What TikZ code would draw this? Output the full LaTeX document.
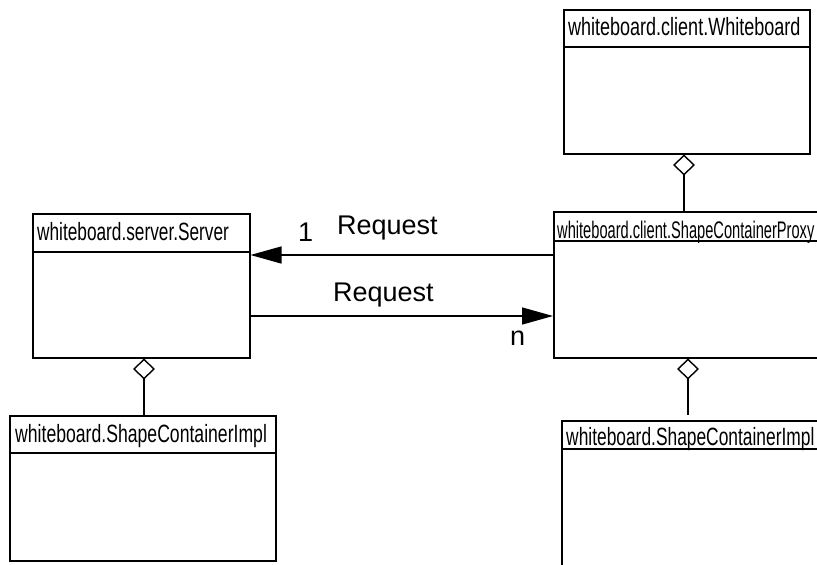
\documentclass[tikz,border=0pt]{standalone}
\usepackage{fontspec}
\setmainfont{Liberation Sans}
\usetikzlibrary{arrows.meta}

\tikzset{
  classpart/.style={draw, line width=1.5pt, inner sep=0pt, anchor=north west, fill=white},
  classname/.style={anchor=base west, inner sep=0pt, font=\fontsize{25}{25}\selectfont},
  assoclabel/.style={anchor=base west, inner sep=0pt, font=\fontsize{27}{27}\selectfont},
  request/.style={line width=1.4pt, -{Triangle[length=31pt,width=17pt]}},
  aggregation/.style={line width=1.4pt, {Diamond[open,length=21pt,width=22pt,fill=white]}-},
}

\begin{document}
\begin{tikzpicture}[x=1pt,y=-1pt]
\useasboundingbox (0,0) rectangle (817,565);
\clip (0,0) rectangle (817,565);

% whiteboard.server.Server
\node[classpart, minimum width=217pt, minimum height=38pt]  (serverH) at (32,213) {};
\node[classpart, minimum width=217pt, minimum height=106pt] (serverB) at (32,251) {};
\node[classname] (serverT) at (37,240) {\scalebox{0.69}[1]{whiteboard.server.Server}};

% whiteboard.client.Whiteboard
\node[classpart, minimum width=246pt, minimum height=37pt]  (wbH) at (563,9) {};
\node[classpart, minimum width=246pt, minimum height=107pt] (wbB) at (563,46) {};
\node[classname] (wbT) at (568,35) {\scalebox{0.72}[1]{whiteboard.client.Whiteboard}};

% whiteboard.client.ShapeContainerProxy
\node[classpart, minimum width=280pt, minimum height=29pt]  (proxyH) at (553,211) {};
\node[classpart, minimum width=280pt, minimum height=117pt] (proxyB) at (553,240) {};
\node[classname, font=\fontsize{24}{24}\selectfont] (proxyT) at (557,238) {\scalebox{0.61}[1]{whiteboard.client.ShapeContainerProxy}};

% whiteboard.ShapeContainerImpl (server side)
\node[classpart, minimum width=266pt, minimum height=37pt]  (implLH) at (9,415) {};
\node[classpart, minimum width=266pt, minimum height=108pt] (implLB) at (9,452) {};
\node[classname] (implLT) at (15,442) {\scalebox{0.705}[1]{whiteboard.ShapeContainerImpl}};

% whiteboard.ShapeContainerImpl (client side)
\node[classpart, minimum width=280pt, minimum height=28pt]  (implRH) at (561,420) {};
\node[classpart, minimum width=280pt, minimum height=140pt] (implRB) at (561,448) {};
\node[classname] (implRT) at (566,445) {\scalebox{0.695}[1]{whiteboard.ShapeContainerImpl}};

% request associations
\coordinate (upper) at (0,255);
\coordinate (lower) at (0,316);
\draw[request] (proxyB.west |- upper) -- (serverB.east |- upper);
\draw[request] (serverB.east |- lower) -- (proxyB.west |- lower);

\node[assoclabel] (one)  at (298,241) {1};
\node[assoclabel] (req1) at (337,234) {Request};
\node[assoclabel] (req2) at (333,301) {Request};
\node[assoclabel] (many) at (510,345) {n};

% aggregations
\coordinate (wbx) at (684,0);
\coordinate (prx) at (688,0);
\coordinate (svx) at (144,0);
\draw[aggregation] (wbB.south -| wbx) -- (proxyH.north -| wbx);
\draw[aggregation, shorten >=5pt] (proxyB.south -| prx) -- (implRH.north -| prx);
\draw[aggregation] (serverB.south -| svx) -- (implLH.north -| svx);
\end{tikzpicture}
\end{document}
